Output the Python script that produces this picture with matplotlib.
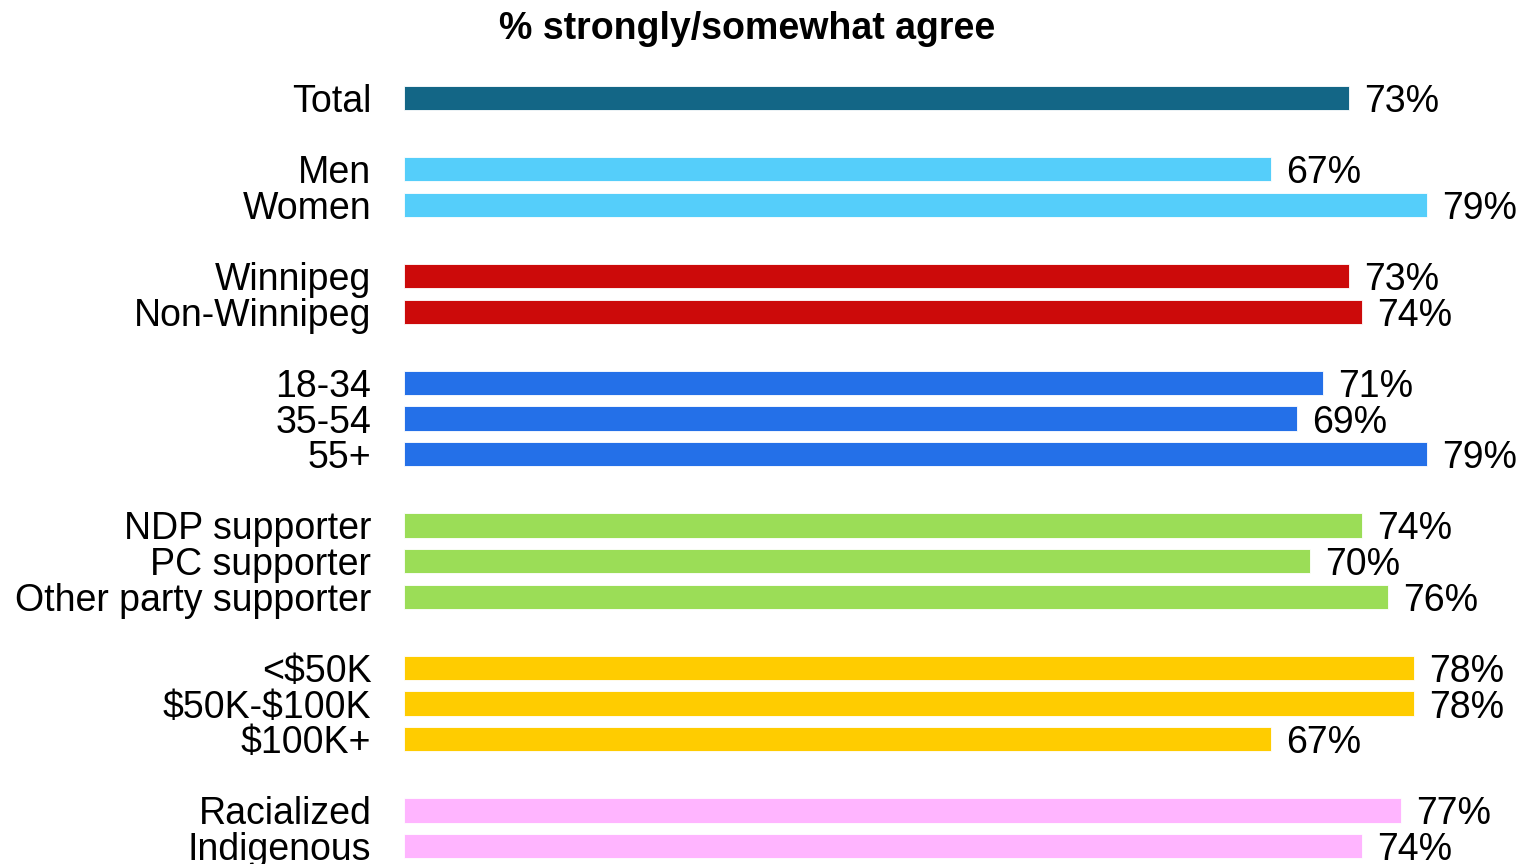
import matplotlib
matplotlib.use('Agg')
import matplotlib.pyplot as plt

plt.rcParams['font.family'] = ['Liberation Sans', 'DejaVu Sans']
plt.rcParams['text.parse_math'] = False

# Données
labels = ['Total',
          'Men', 'Women',
          'Winnipeg', 'Non-Winnipeg',
          '18-34', '35-54', '55+',
          'NDP supporter', 'PC supporter', 'Other party supporter',
          '<$50K', '$50K-$100K', '$100K+',
          'Racialized', 'Indigenous']
values = [73,
          67, 79,
          73, 74,
          71, 69, 79,
          74, 70, 76,
          78, 78, 67,
          77, 74]
group_sizes = [1, 2, 2, 3, 3, 3, 2]
group_colors = ['#136686', '#55CEFA', '#CC0A0A', '#2470E8', '#9BDD57', '#FFCC00', '#FFB5FF']

# Positions : une ligne vide entre les groupes
positions, colors = [], []
slot = 0
for size, col in zip(group_sizes, group_colors):
    for _ in range(size):
        positions.append(slot)
        colors.append(col)
        slot += 1
    slot += 1

W, H = 1524, 864
fs = 27
fig = plt.figure(figsize=(W / 100, H / 100), dpi=100)
ax = fig.add_axes([404 / W, 0, 1 - 404 / W, 1])

ax.barh(positions, values, height=0.68, color=colors, edgecolor='white', linewidth=0.6)
ax.set_xlim(0, 1120 / 12.945)
ax.set_ylim(21.505, -2.751)

for y, v in zip(positions, values):
    ax.annotate(f'{v}%', (v, y), xytext=(11, 0), textcoords='offset points',
                va='center_baseline', ha='left', fontsize=fs)

ax.set_yticks(positions)
ax.set_yticklabels(labels, fontsize=fs)
ax.tick_params(axis='y', length=0, pad=23.5)
ax.set_xticks([])
for s in ax.spines.values():
    s.set_visible(False)

fig.text(747 / W, 1 - 25 / H, '% strongly/somewhat agree', ha='center', va='center_baseline',
         fontsize=fs, fontweight='bold')

plt.savefig('out.png', dpi=100)
